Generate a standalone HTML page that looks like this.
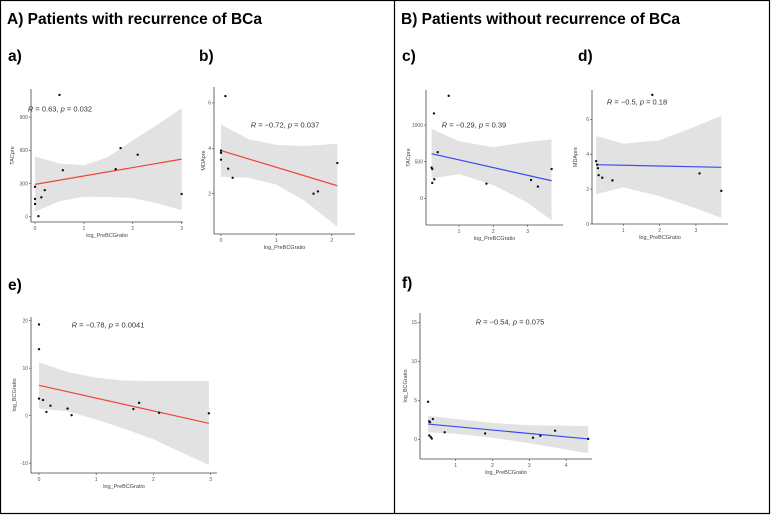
<!DOCTYPE html>
<html><head><meta charset="utf-8"><style>
body{margin:0;background:#fff;}
svg{display:block;font-family:"Liberation Sans",sans-serif;}
</style></head><body>
<svg id="fig" width="771" height="515" viewBox="0 0 771 515">
<rect x="0.5" y="0.5" width="769" height="513" fill="none" stroke="#000" stroke-width="1.2"/>
<line x1="394.5" y1="0" x2="394.5" y2="514" stroke="#000" stroke-width="1.2"/>
<text x="7" y="24" font-size="15.5" font-weight="bold">A) Patients with recurrence of BCa</text>
<text x="401" y="24" font-size="15.5" font-weight="bold">B) Patients without recurrence of BCa</text>
<text x="8" y="61" font-size="15.5" font-weight="bold">a)</text>
<text x="199" y="61" font-size="15.5" font-weight="bold">b)</text>
<text x="402" y="61" font-size="15.5" font-weight="bold">c)</text>
<text x="578" y="61" font-size="15.5" font-weight="bold">d)</text>
<text x="8" y="290" font-size="15.5" font-weight="bold">e)</text>
<text x="402" y="288" font-size="15.5" font-weight="bold">f)</text>
</svg>
<script>
// Panel a data
const aX = [0,0,0,0.07,0.13,0.2,0.5,0.57,1.65,1.75,2.1,3];
const aY = [270,160,115,5,175,240,1100,420,430,620,560,205];
const aFitX = [0,3], aFitY = [292,520];
const aCiX = [0,0.5,1,1.5,2,2.5,3];
const aCiHi = [545,480,465,540,690,830,980];
const aCiLo = [45,140,180,178,168,120,60];
const aYTicks = [0,300,600,900], aXTicks = [0,1,2,3];
// Panel b data
const bX = [0,0,0,0.08,0.13,0.21,1.67,1.75,2.1];
const bY = [3.9,3.8,3.5,6.3,3.1,2.7,2.0,2.1,3.35];
const bFitX = [0,2.1], bFitY = [3.9,2.35];
const bCiX = [0,0.5,1,1.5,2.1];
const bCiHi = [5.05,4.4,4.15,4.1,4.2];
const bCiLo = [2.75,2.7,2.4,1.7,0.55];
const bYTicks = [2,4,6], bXTicks = [0,1,2];
// Panel c data
const cX = [0.2,0.22,0.22,0.27,0.28,0.38,0.7,1.8,3.1,3.3,3.7];
const cY = [420,400,210,1160,260,630,1400,200,250,160,400];
const cFitX = [0.2,3.7], cFitY = [610,240];
const cCiX = [0.2,1,2,3,3.7];
const cCiHi = [950,780,700,770,805];
const cCiLo = [270,330,180,-60,-300];
const cYTicks = [0,500,1000], cXTicks = [1,2,3];
// Panel d data
const dX = [0.25,0.28,0.3,0.32,0.42,0.7,1.8,3.1,3.7];
const dY = [3.6,3.4,3.2,2.8,2.65,2.5,7.4,2.9,1.9];
const dFitX = [0.25,3.7], dFitY = [3.4,3.25];
const dCiX = [0.25,1,2,3,3.7];
const dCiHi = [5.05,4.6,4.8,5.6,6.2];
const dCiLo = [1.7,2.1,1.6,0.9,0.35];
const dYTicks = [0,2,4,6], dXTicks = [1,2,3];
// Panel e data
const eX = [0,0,0,0.07,0.13,0.2,0.5,0.57,1.65,1.75,2.1,2.97];
const eY = [19.2,14,3.6,3.3,0.8,2.1,1.5,0.1,1.4,2.7,0.6,0.5];
const eFitX = [0,2.97], eFitY = [6.4,-1.6];
const eCiX = [0,0.5,1,1.5,2,2.97];
const eCiHi = [11.2,9.2,8,7.4,7.3,7.3];
const eCiLo = [1.5,0.9,-0.8,-2.8,-5,-10.4];
const eYTicks = [-10,0,10,20], eXTicks = [0,1,2,3];
// Panel f data
const fX = [0.25,0.28,0.3,0.38,0.28,0.32,0.35,0.7,1.8,3.1,3.3,3.7,4.6];
const fY = [4.8,2.3,2.2,2.6,0.5,0.3,0.1,0.9,0.75,0.2,0.45,1.1,0.05];
const fFitX = [0.25,4.6], fFitY = [1.95,0.05];
const fCiX = [0.25,1,2,3,4.6];
const fCiHi = [3,2.6,2.1,1.8,1.7];
const fCiLo = [0.9,0.7,0.2,-0.5,-1.8];
const fYTicks = [0,5,10,15], fXTicks = [1,2,3,4];

const NS = "http://www.w3.org/2000/svg";
const svg = document.getElementById('fig');
function mk(tag, attrs, parent){const e=document.createElementNS(NS,tag);for(const k in attrs)e.setAttribute(k,attrs[k]);(parent||svg).appendChild(e);return e;}

function panel(id, frame, xs, ys, fitX, fitY, ciX, ciHi, ciLo, yTicks, xTicks, color, label, ytitle){
  const g = mk('g',{});
  
  
  // scales from two reference ticks
  const sx = v => frame.x0px + (v - frame.x0v) * frame.xUnit;
  const sy = v => frame.y0px - (v - frame.y0v) * frame.yUnit;
  // CI band
  let d = '';
  ciX.forEach((x,i)=>{d += (i?'L':'M')+sx(x).toFixed(1)+','+sy(ciHi[i]).toFixed(1);});
  for(let i=ciX.length-1;i>=0;i--) d += 'L'+sx(ciX[i]).toFixed(1)+','+sy(ciLo[i]).toFixed(1);
  const band = mk('path',{d:d+'Z',fill:'#e2e2e2',stroke:'none'},g);
  
  
  // axes
  const ya = mk('line',{x1:frame.left,y1:frame.top,x2:frame.left,y2:frame.bottom,stroke:'#444','stroke-width':0.8},g);
  
  
  const xa = mk('line',{x1:frame.left,y1:frame.bottom,x2:frame.right,y2:frame.bottom,stroke:'#444','stroke-width':0.8},g);
  
  
  yTicks.forEach(t=>{
    const y = sy(t);
    mk('line',{x1:frame.left-2,y1:y,x2:frame.left,y2:y,stroke:'#444','stroke-width':0.6},g);
    const tx = mk('text',{x:frame.left-3,y:y+1.8,'font-size':5,'text-anchor':'end',fill:'#555'},g);
    tx.textContent = t;
    
    
  });
  xTicks.forEach(t=>{
    const x = sx(t);
    mk('line',{x1:x,y1:frame.bottom,x2:x,y2:frame.bottom+2,stroke:'#444','stroke-width':0.6},g);
    const tx = mk('text',{x:x,y:frame.bottom+8,'font-size':5,'text-anchor':'middle',fill:'#555'},g);
    tx.textContent = t;
    
    
  });
  // fit line
  const fl = mk('line',{x1:sx(fitX[0]),y1:sy(fitY[0]),x2:sx(fitX[1]),y2:sy(fitY[1]),stroke:color,'stroke-width':1.2},g);
  
  
  // points
  xs.forEach((x,i)=>{
    const c = mk('circle',{cx:sx(x),cy:sy(ys[i]),r:1.2,fill:'#111'},g);
    
    
  });
  // annotation
  const an = mk('text',{x:label.x,y:label.y+2.5,'font-size':7.5,'text-anchor':'middle',fill:'#333'},g);
  an.innerHTML = '<tspan font-style="italic">R</tspan> = '+label.r+', <tspan font-style="italic">p</tspan> = '+label.p;
  
  
  // titles
  const xt = mk('text',{x:(frame.left+frame.right)/2,y:frame.bottom+15,'font-size':5.5,'text-anchor':'middle',fill:'#444'},g);
  xt.textContent = 'log_PreBCGratio';
  
  
  const ymid = (frame.top+frame.bottom)/2;
  const yt = mk('text',{x:frame.ytx,y:ymid,'font-size':5.5,'text-anchor':'middle',fill:'#444',transform:'rotate(-90 '+frame.ytx+' '+ymid+')'},g);
  yt.textContent = ytitle;
  
  
}

panel('a',{left:31,right:183,top:89,bottom:222,x0px:35,x0v:0,xUnit:48.9,y0px:216.7,y0v:0,yUnit:33.2/300,ytx:14},
  aX,aY,aFitX,aFitY,aCiX,aCiHi,aCiLo,aYTicks,aXTicks,'#f0443a',{x:60,y:109,r:'0.63',p:'0.032'},'TACpre');
panel('b',{left:214,right:355,top:87,bottom:234,x0px:221,x0v:0,xUnit:55.4,y0px:193.7,y0v:2,yUnit:22.7,ytx:205},
  bX,bY,bFitX,bFitY,bCiX,bCiHi,bCiLo,bYTicks,bXTicks,'#f0443a',{x:285,y:125,r:'\u22120.72',p:'0.037'},'MDApre');
panel('c',{left:426,right:563,top:90,bottom:225,x0px:459,x0v:1,xUnit:34.3,y0px:198.3,y0v:0,yUnit:36.6/500,ytx:410},
  cX,cY,cFitX,cFitY,cCiX,cCiHi,cCiLo,cYTicks,cXTicks,'#3b4cf0',{x:474,y:125,r:'\u22120.29',p:'0.39'},'TACpre');
panel('d',{left:592,right:728,top:90,bottom:224,x0px:623.3,x0v:1,xUnit:36.3,y0px:224,y0v:0,yUnit:17.45,ytx:577},
  dX,dY,dFitX,dFitY,dCiX,dCiHi,dCiLo,dYTicks,dXTicks,'#3b4cf0',{x:637,y:102,r:'\u22120.5',p:'0.18'},'MDApre');
panel('e',{left:31,right:217,top:317,bottom:473,x0px:39,x0v:0,xUnit:57.2,y0px:415.7,y0v:0,yUnit:4.75,ytx:16},
  eX,eY,eFitX,eFitY,eCiX,eCiHi,eCiLo,eYTicks,eXTicks,'#f0443a',{x:108,y:325,r:'\u22120.78',p:'0.0041'},'log_BCGratio');
panel('f',{left:420,right:592,top:313,bottom:459,x0px:455.7,x0v:1,xUnit:36.8,y0px:439.3,y0v:0,yUnit:7.8,ytx:407},
  fX,fY,fFitX,fFitY,fCiX,fCiHi,fCiLo,fYTicks,fXTicks,'#3b4cf0',{x:510,y:322,r:'\u22120.54',p:'0.075'},'log_BCGratio');
</script>
</body></html>
